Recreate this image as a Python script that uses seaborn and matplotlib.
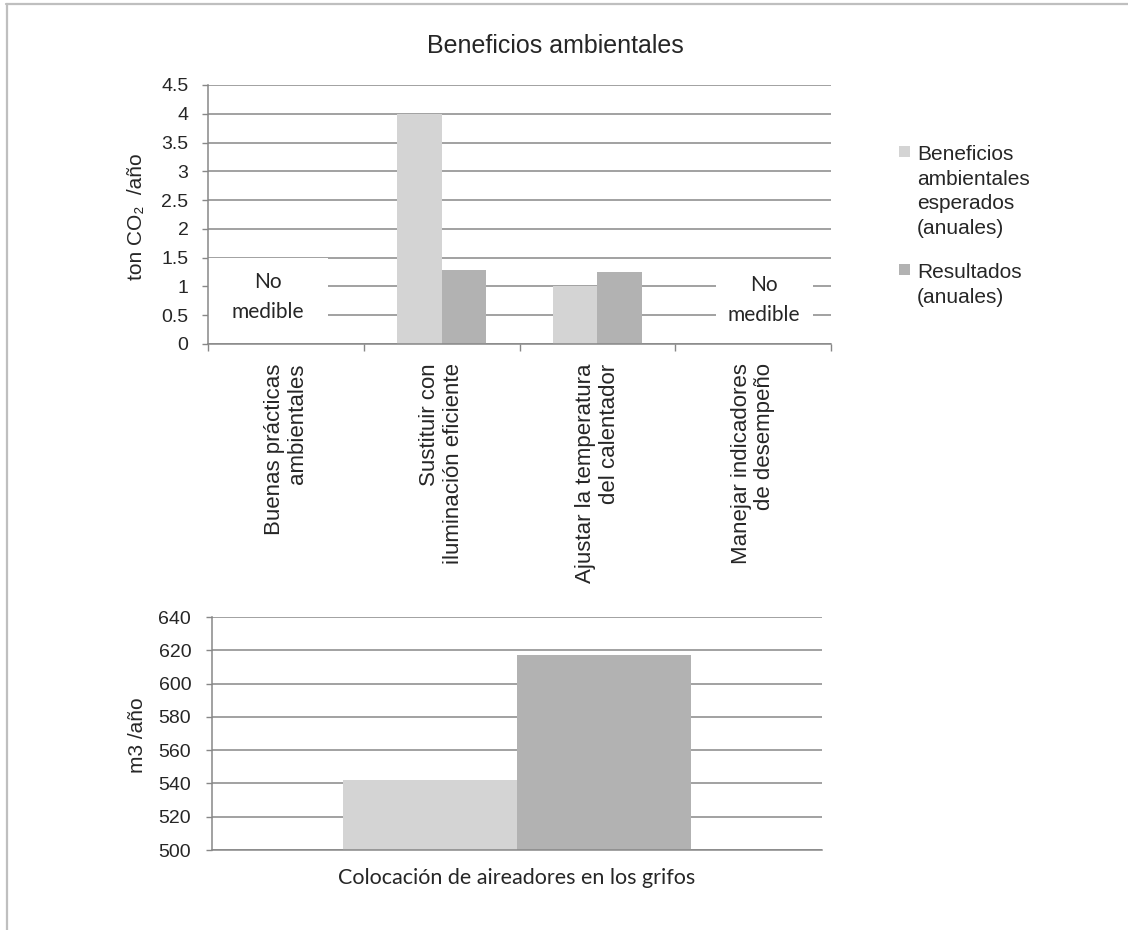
import numpy as np
import pandas as pd
import matplotlib
matplotlib.use("Agg")
import matplotlib.pyplot as plt
from matplotlib.patches import Rectangle
from matplotlib.lines import Line2D
from matplotlib.ticker import FixedLocator, FuncFormatter
import seaborn as sns

# ---------------- data ----------------
acciones = [
    "Buenas prácticas\nambientales",
    "Sustituir con\niluminación eficiente",
    "Ajustar la temperatura\ndel calentador",
    "Manejar indicadores\nde desempeño",
]
series = [
    "Beneficios\nambientales\nesperados\n(anuales)",
    "Resultados\n(anuales)",
]
co2_esperado = [np.nan, 4.0, 1.0, np.nan]
co2_resultado = [np.nan, 1.28, 1.25, np.nan]
co2_ticks = [0, 0.5, 1, 1.5, 2, 2.5, 3, 3.5, 4, 4.5]

agua_accion = ["Colocación de aireadores en los grifos"]
agua_esperado = [542]
agua_resultado = [617]
agua_ticks = [500, 520, 540, 560, 580, 600, 620, 640]

titulo = "Beneficios ambientales"
etiqueta_co2 = "ton CO₂  /año"
etiqueta_agua = "m3 /año"
texto_no_medible = "No\nmedible"

# ---------------- style ----------------
sns.set_style("white")
plt.rcParams["font.family"] = ["Liberation Sans", "DejaVu Sans"]
colores = ["#d4d4d4", "#b2b2b2"]
gris = "#878787"
W, H = 1128, 930

df_co2 = pd.DataFrame({
    "accion": acciones * 2,
    "serie": [series[0]] * len(acciones) + [series[1]] * len(acciones),
    "valor": co2_esperado + co2_resultado,
}).dropna()
df_agua = pd.DataFrame({
    "accion": agua_accion * 2,
    "serie": [series[0]] * len(agua_accion) + [series[1]] * len(agua_accion),
    "valor": agua_esperado + agua_resultado,
})

fig = plt.figure(figsize=(W / 100, H / 100), dpi=100)
ax1 = fig.add_axes([208 / W, 1 - 344 / H, 623 / W, 259 / H])
ax2 = fig.add_axes([212 / W, 1 - 850 / H, 610 / W, 233 / H])

# ---------------- CO2 chart ----------------
sns.barplot(data=df_co2, x="accion", y="valor", hue="serie", order=acciones,
            hue_order=series, palette=colores, saturation=1, width=0.572,
            linewidth=0, errorbar=None, legend=False, ax=ax1)
ax1.set_xlim(-0.5, len(acciones) - 0.5)
ax1.set_ylim(co2_ticks[0], co2_ticks[-1])
ax1.yaxis.set_major_locator(FixedLocator(co2_ticks))
ax1.yaxis.set_major_formatter(FuncFormatter(lambda v, p: f"{v:g}"))
ax1.xaxis.set_minor_locator(FixedLocator(np.arange(len(acciones) + 1) - 0.5))
ax1.set_xticks(range(len(acciones)))
ax1.set_xticklabels(acciones, rotation=90, ha="center", va="top",
                    multialignment="right", fontsize=16, linespacing=1.15)
ax1.tick_params(axis="x", which="major", length=0, pad=14)
ax1.tick_params(axis="x", which="minor", length=5, width=1, color=gris,
                direction="out", bottom=True)
ax1.tick_params(axis="y", length=4, width=1, color=gris, pad=10,
                labelsize=14, left=True)
ax1.set_xlabel("")
ax1.set_ylabel(etiqueta_co2, fontsize=15)
ax1.yaxis.set_label_coords(-0.10, 0.49)
ax1.yaxis.grid(True, color=gris, lw=1.1)
ax1.set_axisbelow(True)
for s in ["top", "right"]:
    ax1.spines[s].set_visible(False)
for s in ["left", "bottom"]:
    ax1.spines[s].set_color(gris)
    ax1.spines[s].set_linewidth(1.1)

# white label boxes for the actions without measurement
ax1.add_patch(Rectangle((-0.5, 0.03), 0.77, 1.47, facecolor="white",
                        edgecolor="none", zorder=1))
ax1.add_patch(Rectangle((2.76, 0.1), 0.625, 1.2, facecolor="white",
                        edgecolor="none", zorder=1))
ax1.text(-0.115, 0.82, texto_no_medible, ha="center", va="center",
         family="Lato", fontsize=15, linespacing=1.6, zorder=3)
ax1.text(3.07, 0.76, texto_no_medible, ha="center", va="center",
         family="Lato", fontsize=15, linespacing=1.6, zorder=3)

# ---------------- water chart ----------------
sns.barplot(data=df_agua, x="accion", y="valor", hue="serie", order=agua_accion,
            hue_order=series, palette=colores, saturation=1, width=0.572,
            linewidth=0, errorbar=None, legend=False, ax=ax2)
ax2.set_xlim(-0.5, 0.5)
ax2.set_ylim(agua_ticks[0], agua_ticks[-1])
ax2.yaxis.set_major_locator(FixedLocator(agua_ticks))
ax2.tick_params(axis="x", length=0, pad=13)
for lab in ax2.get_xticklabels():
    lab.set_family("Lato")
    lab.set_fontsize(15.5)
ax2.tick_params(axis="y", length=4, width=1, color=gris, pad=11,
                labelsize=14, left=True)
ax2.set_xlabel("")
ax2.set_ylabel(etiqueta_agua, fontsize=15)
ax2.yaxis.set_label_coords(-0.107, 0.494)
ax2.yaxis.grid(True, color=gris, lw=1.1)
ax2.set_axisbelow(True)
for s in ["top", "right"]:
    ax2.spines[s].set_visible(False)
for s in ["left", "bottom"]:
    ax2.spines[s].set_color(gris)
    ax2.spines[s].set_linewidth(1.1)

# ---------------- title and legend ----------------
fig.text(555 / W, 1 - 53 / H, titulo, ha="center", va="baseline", fontsize=18)

legend_rows = [(146, 145), (264, 263)]
for (sq_top, txt_top), nombre, color in zip(legend_rows, series, colores):
    fig.add_artist(Rectangle((899 / W, 1 - (sq_top + 11) / H), 11 / W, 11 / H,
                             transform=fig.transFigure, facecolor=color,
                             edgecolor="none"))
    fig.text(917 / W, 1 - txt_top / H, nombre, ha="left", va="top",
             fontsize=15, linespacing=1.37)

# chart frame
frame = dict(color="#bfbfbf", lw=1.6, transform=fig.transFigure)
fig.add_artist(Line2D([6 / W, 1.0], [1 - 4 / H, 1 - 4 / H], **frame))
fig.add_artist(Line2D([7 / W, 7 / W], [1 - 4 / H, 0.0], **frame))

fig.savefig("out.png", dpi=100)
